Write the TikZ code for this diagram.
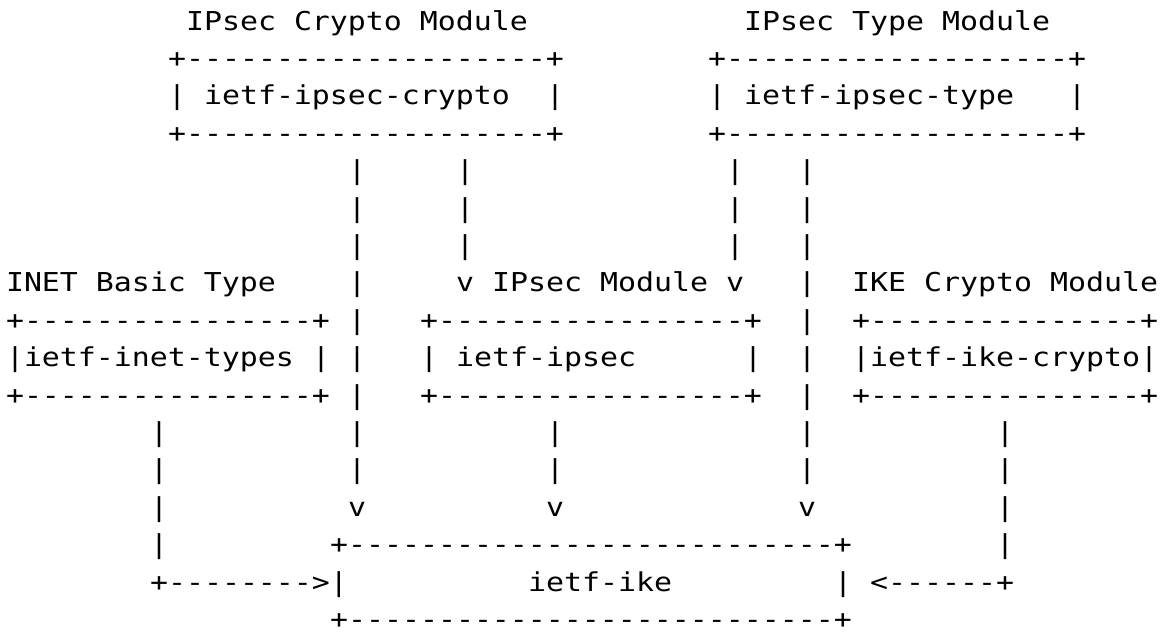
\documentclass[tikz,border=0pt]{standalone}
\usepackage{fontspec}
\setmonofont{DejaVu Sans Mono}[FakeStretch=1.15]
\ExplSyntaxOn
\newcommand\reprt[2]{\prg_replicate:nn{#1}{#2}}
\ExplSyntaxOff
\newcommand\boxln[1]{+\reprt{#1}{-}+}
\newcommand\seg[4]{\node[txt] (#1) at ({6+18*(#2)},{-(30+37.4*((#3)-1))}) {#4};}
\begin{document}
\begin{tikzpicture}[x=1pt,y=1pt,
  txt/.style={inner sep=0pt,outer sep=0pt,anchor=base west,
    font=\ttfamily\fontsize{26pt}{30pt}\selectfont,text=black}]
\useasboundingbox (0,0) rectangle (1173,-633);
% row 1
\seg{r1a}{10}{1}{IPsec Crypto Module}
\seg{r1b}{41}{1}{IPsec Type Module}
% row 2
\seg{r2a}{9}{2}{\boxln{20}}
\seg{r2b}{39}{2}{\boxln{19}}
% row 3
\seg{r3a}{9}{3}{|}
\seg{r3b}{11}{3}{ietf-ipsec-crypto}
\seg{r3c}{30}{3}{|}
\seg{r3d}{39}{3}{|}
\seg{r3e}{41}{3}{ietf-ipsec-type}
\seg{r3f}{59}{3}{|}
% row 4
\seg{r4a}{9}{4}{\boxln{20}}
\seg{r4b}{39}{4}{\boxln{19}}
% rows 5-7
\foreach \r in {5,6,7}{
  \seg{r\r a}{19}{\r}{|}
  \seg{r\r b}{25}{\r}{|}
  \seg{r\r c}{40}{\r}{|}
  \seg{r\r d}{44}{\r}{|}
}
% row 8
\seg{r8a}{0}{8}{INET Basic Type}
\seg{r8b}{19}{8}{|}
\seg{r8c}{25}{8}{v}
\seg{r8d}{27}{8}{IPsec Module}
\seg{r8e}{40}{8}{v}
\seg{r8f}{44}{8}{|}
\seg{r8g}{47}{8}{IKE Crypto Module}
% rows 9 and 11
\foreach \r in {9,11}{
  \seg{r\r a}{0}{\r}{\boxln{16}}
  \seg{r\r b}{19}{\r}{|}
  \seg{r\r c}{23}{\r}{\boxln{17}}
  \seg{r\r d}{44}{\r}{|}
  \seg{r\r e}{47}{\r}{\boxln{15}}
}
% row 10
\seg{r10a}{0}{10}{|ietf-inet-types}
\seg{r10b}{17}{10}{|}
\seg{r10c}{19}{10}{|}
\seg{r10d}{23}{10}{|}
\seg{r10e}{25}{10}{ietf-ipsec}
\seg{r10f}{41}{10}{|}
\seg{r10g}{44}{10}{|}
\seg{r10h}{47}{10}{|ietf-ike-crypto|}
% rows 12-13
\foreach \r in {12,13}{
  \seg{r\r a}{8}{\r}{|}
  \seg{r\r b}{19}{\r}{|}
  \seg{r\r c}{30}{\r}{|}
  \seg{r\r d}{44}{\r}{|}
  \seg{r\r e}{55}{\r}{|}
}
% row 14
\seg{r14a}{8}{14}{|}
\seg{r14b}{19}{14}{v}
\seg{r14c}{30}{14}{v}
\seg{r14d}{44}{14}{v}
\seg{r14e}{55}{14}{|}
% row 15
\seg{r15a}{8}{15}{|}
\seg{r15b}{18}{15}{\boxln{27}}
\seg{r15c}{55}{15}{|}
% row 16
\seg{r16a}{8}{16}{+\reprt{8}{-}>|}
\seg{r16b}{29}{16}{ietf-ike}
\seg{r16c}{46}{16}{|}
\seg{r16d}{48}{16}{<\reprt{6}{-}+}
% row 17
\seg{r17a}{18}{17}{\boxln{27}}
\end{tikzpicture}
\end{document}
